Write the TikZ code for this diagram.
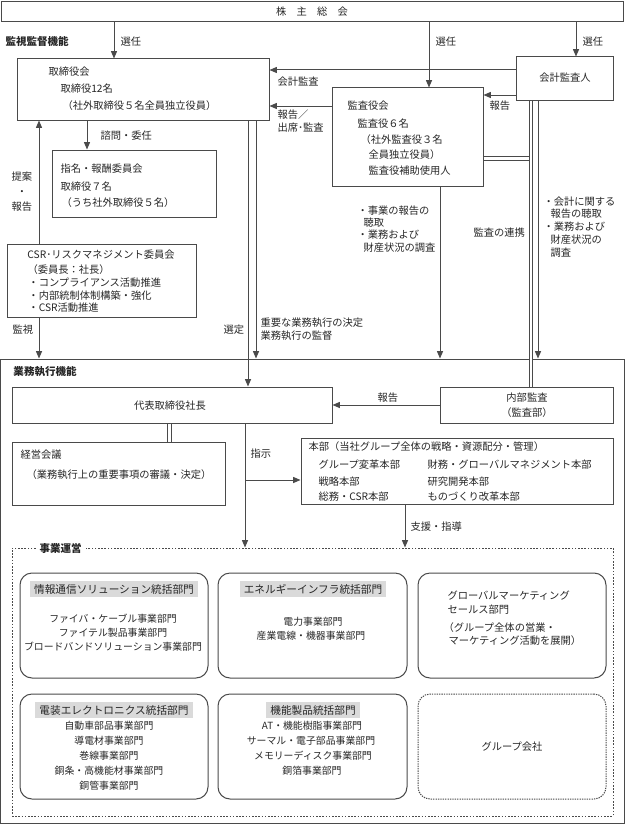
\documentclass[tikz,border=0pt]{standalone}
\usepackage{fontspec}
\setmainfont{Noto Sans CJK JP}
\usetikzlibrary{arrows.meta,fit}
\definecolor{ln}{HTML}{4A4A4A}
\definecolor{hdgray}{HTML}{DADADA}

\tikzset{every picture/.style={line width=0.75pt}}
\tikzset{
  box/.style={draw=ln, inner sep=0pt},
  rbox/.style={draw=ln, inner sep=0pt, rounded corners=9pt},
  txt/.style={inner sep=0pt, anchor=west, text=black!85, font=\fontsize{7.7}{9}\selectfont},
  ctxt/.style={txt, anchor=center},
  sml/.style={ctxt, font=\fontsize{7.4}{9}\selectfont},
  hd/.style={ctxt, fill=hdgray, inner xsep=3pt, inner ysep=2pt, font=\fontsize{8}{9}\selectfont},
  ttl/.style={txt, font=\fontsize{7.9}{9}\selectfont\bfseries},
  arr/.style={draw=ln, -{Triangle[length=5.5pt,width=4.5pt]}},
  dbl/.style={draw=ln, double, double distance=1.6pt},
}

\begin{document}
\begin{tikzpicture}[x=0.75pt,y=0.75pt,yscale=-1]
\useasboundingbox (0,0) rectangle (625,824);

% frames
\node[box, fit={(1.5,1.5) (623.5,22)}] (soukai) {};
\node[box, fit={(0.5,359) (624,823)}] (gyomu) {};
\node[box, dash pattern=on 1.2pt off 1.2pt, fit={(12,548) (613,816)}] (jigyo) {};

% supervision boxes
\node[box, fit={(17,59) (269,120)}] (tori) {};
\node[box, fit={(332,88) (483,186)}] (kansa) {};
\node[box, fit={(516,57) (613,100)}] (kaikei) {};
\node[box, fit={(52,150) (216,217)}] (shimei) {};
\node[box, fit={(7.5,244) (196,317)}] (csr) {};

% execution boxes
\node[box, fit={(12,387) (332,423)}] (daihyo) {};
\node[box, fit={(440,387) (613,423)}] (naibu) {};
\node[box, fit={(12,442) (225,505)}] (keiei) {};
\node[box, fit={(301,438) (613,504)}] (honbu) {};

% business units
\node[rbox, fit={(20,573) (208,678)}] (bu1) {};
\node[rbox, fit={(218,573) (407,678)}] (bu2) {};
\node[rbox, fit={(418,573) (606,678)}] (bu3) {};
\node[rbox, fit={(20,694) (208,799)}] (bu4) {};
\node[rbox, fit={(218,694) (407,799)}] (bu5) {};
\node[rbox, dash pattern=on 1pt off 0.8pt, fit={(418,694) (606,799)}] (bu6) {};

% connectors
\draw[arr] (soukai.south -| 114,0) -- (tori.north -| 114,0);
\draw[arr] (soukai.south -| 429,0) -- (kansa.north -| 429,0);
\draw[arr] (soukai.south -| 576,0) -- (kaikei.north -| 576,0);
\draw[arr] (kaikei.west |- 0,70) -- (tori.east |- 0,70);
\draw[arr] (kansa.west |- 0,106) -- (tori.east |- 0,106);
\draw[arr] (kaikei.west |- 0,95) -- (kansa.east |- 0,95);
\draw[arr] (tori.south -| 87,0) -- (shimei.north -| 87,0);
\draw[arr] (csr.north -| 39,0) -- (tori.south -| 39,0);
\draw[arr] (csr.south -| 39,0) -- (gyomu.north -| 39,0);
\draw[arr] (tori.south -| 248,0) -- (daihyo.north -| 248,0);
\draw[arr] (tori.south -| 256,0) -- (gyomu.north -| 256,0);
\draw[arr] (kansa.south -| 440,0) -- (gyomu.north -| 440,0);
\draw[arr] (kaikei.south -| 538,0) -- (gyomu.north -| 538,0);
\coordinate (renkei) at (531,158.5);
\draw[dbl] (kansa.east |- renkei) -- (renkei);
\draw[dbl] (kaikei.south -| renkei) -- (naibu.north -| renkei);
\draw[arr] (naibu.west) -- (daihyo.east |- naibu.west);
\draw[dbl] (daihyo.south -| 169.5,0) -- (keiei.north -| 169.5,0);
\coordinate (shiji) at (245,480);
\draw[arr] (daihyo.south -| shiji) -- (jigyo.north -| shiji);
\draw[arr] (shiji) -- (honbu.west |- shiji);
\draw[arr] (honbu.south -| 405,0) -- (jigyo.north -| 405,0);

% headings
\node[ctxt] (soukaiT) at (312,12) {株　主　総　会};
\node[ttl] (kanshiT) at (5,41) {監視監督機能};
\node[ttl] (gyomuT) at (13,372) {業務執行機能};
\node[ttl, fill=white, inner xsep=3pt] (jigyoT) at (35,548) {事業運営};

% connector labels
\node[txt] (sn1) at (120,42) {選任};
\node[txt] (sn2) at (435,42) {選任};
\node[txt] (sn3) at (582,42) {選任};
\node[txt] (kk) at (277,82) {会計監査};
\node[txt] (hk1) at (277,115) {報告／};
\node[txt] (hk2) at (277,128) {出席･監査};
\node[txt] (hk3) at (489,106) {報告};
\node[txt] (shimon) at (100,136) {諮問・委任};
\node[ctxt] (tei1) at (22,177) {提案};
\node[ctxt] (tei2) at (22,193) {・};
\node[ctxt] (tei3) at (22,207) {報告};
\node[txt] (kanshi) at (12,330) {監視};
\node[txt] (sentei) at (223,330) {選定};
\node[txt] (jy1) at (260,323) {重要な業務執行の決定};
\node[txt] (jy2) at (260,336) {業務執行の監督};
\node[txt] (ja1) at (357,211) {・事業の報告の};
\node[txt] (ja2) at (363,223) {聴取};
\node[txt] (ja3) at (357,235) {・業務および};
\node[txt] (ja4) at (363,248) {財産状況の調査};
\node[txt] (renT) at (473,233) {監査の連携};
\node[txt] (kb1) at (543,202) {・会計に関する};
\node[txt] (kb2) at (550,214) {報告の聴取};
\node[txt] (kb3) at (543,227) {・業務および};
\node[txt] (kb4) at (550,240) {財産状況の};
\node[txt] (kb5) at (550,253) {調査};
\node[txt] (hk4) at (377,398) {報告};
\node[txt] (shijiT) at (250,454) {指示};
\node[txt] (shien) at (410,527) {支援・指導};

% box texts
\node[txt] (tori1) at (48,72) {取締役会};
\node[txt] (tori2) at (60,89) {取締役12名};
\node[txt] (tori3) at (62,106) {（社外取締役５名全員独立役員）};
\node[txt] (kansa1) at (347,106) {監査役会};
\node[txt] (kansa2) at (357,124) {監査役６名};
\node[txt] (kansa3) at (360,140) {（社外監査役３名};
\node[txt] (kansa4) at (368,155) {全員独立役員）};
\node[txt] (kansa5) at (368,171) {監査役補助使用人};
\node[ctxt] (kaikeiT) at (565,78) {会計監査人};
\node[txt] (shimei1) at (60,169) {指名・報酬委員会};
\node[txt] (shimei2) at (60,187) {取締役７名};
\node[txt] (shimei3) at (61,203) {（うち社外取締役５名）};
\node[ctxt] (csr1) at (101,255) {CSR･リスクマネジメント委員会};
\node[txt] (csr2) at (27,270) {（委員長：社長）};
\node[txt] (csr3) at (28,283) {・コンプライアンス活動推進};
\node[txt] (csr4) at (28,296) {・内部統制体制構築・強化};
\node[txt] (csr5) at (28,308) {・CSR活動推進};
\node[ctxt] (daihyoT) at (170,406) {代表取締役社長};
\node[ctxt] (naibu1) at (527,398) {内部監査};
\node[ctxt] (naibu2) at (527,413) {（監査部）};
\node[txt] (keiei1) at (20,455) {経営会議};
\node[txt] (keiei2) at (26,475) {（業務執行上の重要事項の審議・決定）};
\node[txt] (hb0) at (308,447) {本部（当社グループ全体の戦略・資源配分・管理）};
\node[txt] (hb1) at (318,465) {グループ変革本部};
\node[txt] (hb2) at (427,465) {財務・グローバルマネジメント本部};
\node[txt] (hb3) at (318,482) {戦略本部};
\node[txt] (hb4) at (427,482) {研究開発本部};
\node[txt] (hb5) at (318,497) {総務・CSR本部};
\node[txt] (hb6) at (427,497) {ものづくり改革本部};

% business unit texts
\node[hd] (bu1h) at (114,589) {情報通信ソリューション統括部門};
\node[sml] (bu1a) at (113,619) {ファイバ・ケーブル事業部門};
\node[sml] (bu1b) at (113,633) {ファイテル製品事業部門};
\node[sml] (bu1c) at (113,647) {ブロードバンドソリューション事業部門};
\node[hd] (bu2h) at (313,589) {エネルギーインフラ統括部門};
\node[sml] (bu2a) at (313,622) {電力事業部門};
\node[sml] (bu2b) at (311,636) {産業電線・機器事業部門};
\node[txt] (bu3a) at (447,596) {グローバルマーケティング};
\node[txt] (bu3b) at (447,610) {セールス部門};
\node[txt] (bu3c) at (443,628) {（グループ全体の営業・};
\node[txt] (bu3d) at (448,641) {マーケティング活動を展開）};
\node[hd] (bu4h) at (114,710) {電装エレクトロニクス統括部門};
\node[sml] (bu4a) at (109,726) {自動車部品事業部門};
\node[sml] (bu4b) at (109,741) {導電材事業部門};
\node[sml] (bu4c) at (109,756) {巻線事業部門};
\node[sml] (bu4d) at (109,771) {銅条・高機能材事業部門};
\node[sml] (bu4e) at (109,786) {銅管事業部門};
\node[hd] (bu5h) at (313,710) {機能製品統括部門};
\node[sml] (bu5a) at (312,726) {AT・機能樹脂事業部門};
\node[sml] (bu5b) at (311,741) {サーマル・電子部品事業部門};
\node[sml] (bu5c) at (313,756) {メモリーディスク事業部門};
\node[sml] (bu5d) at (312,771) {銅箔事業部門};
\node[ctxt] (bu6T) at (512,747) {グループ会社};

\end{tikzpicture}
\end{document}
